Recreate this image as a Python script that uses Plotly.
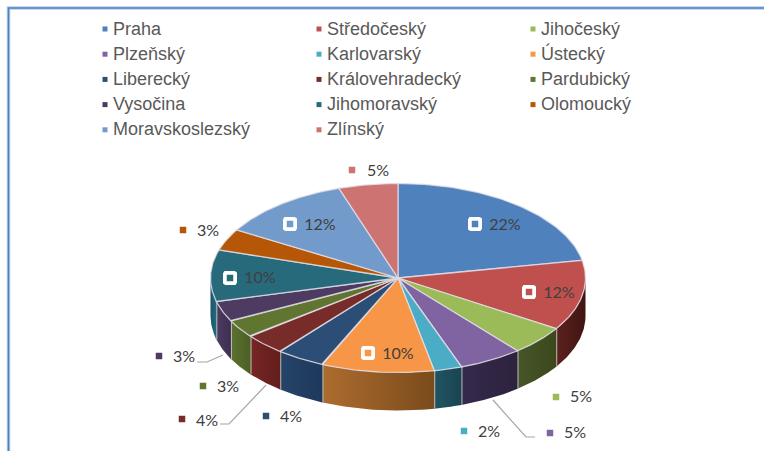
import numpy as np
import plotly.graph_objects as go

# ---- data ----
regions = ["Praha", "Středočeský", "Jihočeský", "Plzeňský", "Karlovarský", "Ústecký", "Liberecký",
           "Královehradecký", "Pardubický", "Vysočina", "Jihomoravský", "Olomoucký", "Moravskoslezský", "Zlínský"]
shares = [22.0, 12.0, 5.0, 5.5, 2.4, 9.7, 4.2, 3.6, 3.1, 3.5, 8.8, 3.7, 11.4, 5.1]
printed_labels = ["22%", "12%", "5%", "5%", "2%", "10%", "4%", "4%", "3%", "3%", "10%", "3%", "12%", "5%"]
top_colors = ["#4F81BD", "#C0504D", "#9BBB59", "#8064A2", "#4BACC6", "#F79646", "#2C4D75",
              "#772C2A", "#5F7530", "#4D3B62", "#276A7C", "#B65708", "#729ACA", "#CD7371"]
side_colors = [("#3a6290", "#3a6290"), ("#5c211e", "#3f1512"), ("#47562a", "#3a481c"), ("#36294c", "#2d223e"),
               ("#205563", "#1a4452"), ("#ad6c2f", "#7a4b1b"), ("#264469", "#1d395c"), ("#772624", "#621e1b"),
               ("#5c7230", "#4b5f24"), ("#4d3b62", "#3e2f52"), ("#1c566a", "#226a80"), ("#8a4206", "#8a4206"),
               ("#56759a", "#56759a"), ("#9c5755", "#9c5755")]

# ---- layout (pixel space: axes run 0..764 and 451..0) ----
W, H = 764, 451
CX, CY, RX, RY, DEPTH = 398, 278, 187.5, 94.5, 38
LEG_X, LEG_Y, LEG_DX, LEG_DY, LEG_TXT = 105, 29, 214, 25.2, 8
TXT_NUDGE = 1
# (swatch x, swatch y, text x, text y, boxed?)
label_pos = [(475, 224, 505, 225, True), (529, 292, 559, 293, True), (556, 397, 581, 397, False),
             (550, 433, 575, 433, False), (464, 431, 489, 432, False), (368, 353, 398, 354, True),
             (266, 416, 291, 417, False), (182, 419, 207, 421, False), (203, 386, 228, 387, False),
             (159, 356, 184, 357, False), (230, 278, 260, 278, True), (183, 230, 208, 231, False),
             (290, 224, 320, 225, True), (352, 170, 378, 171, False)]
leaders = [[(197, 362), (207, 362), (223, 355)], [(220, 424), (229, 424), (266, 385)],
           [(493, 400), (526, 437), (535, 437)]]

fig = go.Figure()

def rim(a, b, dy=0.0, n=60):
    t = np.radians(np.linspace(a, b, n))
    return CX + RX * np.sin(t), CY - RY * np.cos(t) + dy

edges = np.concatenate([[0], np.cumsum(shares)])
edges = edges * 360 / edges[-1]

# frame
for c, w in (("#b4cdee", 3.5), ("#4F81BD", 1.6)):
    fig.add_trace(go.Scatter(x=[8.5, 8.5, W], y=[H, 8, 8], mode="lines", line=dict(color=c, width=w), hoverinfo="skip"))

# side walls of the front half
for i, (a, b) in enumerate(zip(edges[:-1], edges[1:])):
    a2, b2 = max(a, 90), min(b, 270)
    if a2 >= b2:
        continue
    x1, y1 = rim(a2, b2)
    x2, y2 = rim(b2, a2, DEPTH)
    fig.add_trace(go.Scatter(
        x=np.r_[x1, x2, x1[0]], y=np.r_[y1, y2, y1[0]], mode="lines", fill="toself",
        line=dict(width=0), hoverinfo="skip",
        fillgradient=dict(type="horizontal", colorscale=[[0, side_colors[i][0]], [1, side_colors[i][1]]])))
    if 90 < b < 270:
        xs = rim(b, b, 0, 2)[0]
        ys = [rim(b, b, 0, 2)[1][0], rim(b, b, DEPTH, 2)[1][0]]
        fig.add_trace(go.Scatter(x=xs, y=ys, mode="lines", line=dict(color="#c9cac6", width=1.8), hoverinfo="skip"))

# top faces
for i, (a, b) in enumerate(zip(edges[:-1], edges[1:])):
    x, y = rim(a, b)
    fig.add_trace(go.Scatter(
        x=np.r_[CX, x, CX], y=np.r_[CY, y, CY], mode="lines", fill="toself", fillcolor=top_colors[i],
        line=dict(color="rgba(226,224,232,0.8)", width=1.3), hoverinfo="skip"))

# leader lines
for pts in leaders:
    fig.add_trace(go.Scatter(x=[p[0] for p in pts], y=[p[1] for p in pts], mode="lines",
                             line=dict(color="#a6a6a6", width=1.2), hoverinfo="skip"))

# white rounded boxes behind inner-label swatches
def rounded(cx, cy, h=7.0, r=2.5):
    pts = []
    for (ox, oy, s) in ((h - r, -h + r, 0), (h - r, h - r, 90), (-h + r, h - r, 180), (-h + r, -h + r, 270)):
        for d in np.radians(np.linspace(s - 90, s, 6)):
            pts.append((cx + ox + r * np.cos(d), cy + oy + r * np.sin(d)))
    pts.append(pts[0])
    return pts

bx, by = [], []
for p in label_pos:
    if p[4]:
        pts = rounded(p[0], p[1])
        bx += [q[0] for q in pts] + [None]
        by += [q[1] for q in pts] + [None]
fig.add_trace(go.Scatter(x=bx, y=by, mode="lines", fill="toself", fillcolor="white",
                         line=dict(width=0), hoverinfo="skip"))

# data labels
fig.add_trace(go.Scatter(x=[p[0] for p in label_pos], y=[p[1] for p in label_pos], mode="markers",
                         marker=dict(symbol="square", size=6.5, color=top_colors, line=dict(width=0)), hoverinfo="skip"))
fig.add_trace(go.Scatter(x=[p[2] for p in label_pos], y=[p[3] + TXT_NUDGE for p in label_pos], mode="text", text=printed_labels,
                         textposition="middle center", textfont=dict(family="Lato", size=16, color="#404040"),
                         hoverinfo="skip"))

# legend, three columns
lx = [LEG_X + LEG_DX * (i % 3) for i in range(len(regions))]
ly = [LEG_Y + LEG_DY * (i // 3) for i in range(len(regions))]
fig.add_trace(go.Scatter(x=lx, y=ly, mode="markers", marker=dict(symbol="square", size=5, color=top_colors, line=dict(width=0)),
                         hoverinfo="skip"))
fig.add_trace(go.Scatter(x=[v + LEG_TXT for v in lx], y=[v + TXT_NUDGE for v in ly], mode="text", text=regions, textposition="middle right",
                         textfont=dict(family="Liberation Sans", size=18, color="#595959"), hoverinfo="skip"))

fig.update_layout(width=W, height=H, margin=dict(l=0, r=0, t=0, b=0), showlegend=False,
                  paper_bgcolor="white", plot_bgcolor="white",
                  xaxis=dict(range=[0, W], visible=False, fixedrange=True),
                  yaxis=dict(range=[H, 0], visible=False, fixedrange=True))
fig.write_html("out.html", config=dict(displayModeBar=False),
               post_script="document.body.style.margin='0';document.documentElement.style.overflow='hidden';")
